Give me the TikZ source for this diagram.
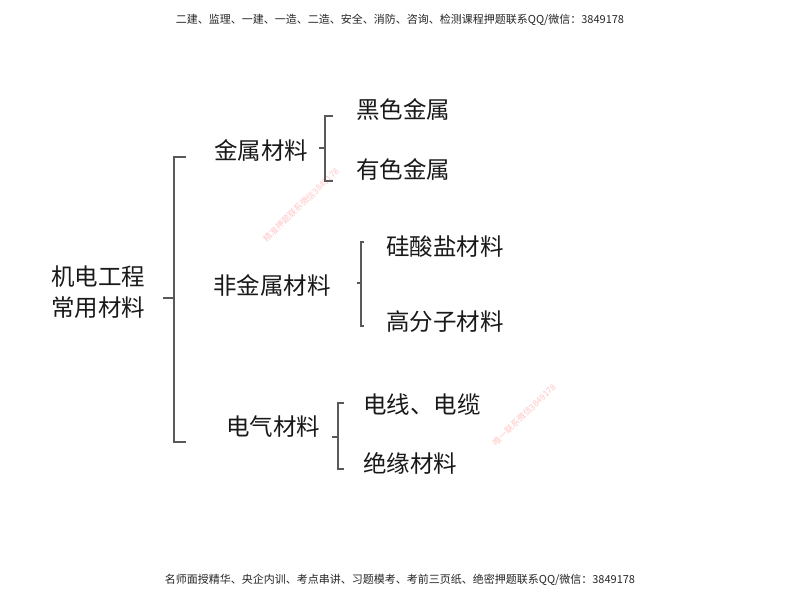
\documentclass[tikz,border=0pt]{standalone}
\usepackage{fontspec}
\setmainfont{Noto Sans CJK SC}
\newfontfamily\cjk{Noto Sans CJK SC}
\begin{document}
\begin{tikzpicture}[x=1pt,y=-1pt,
  lbl/.style={font=\cjk\fontsize{23.5}{31}\selectfont, text=black!90, inner sep=0pt},
  small/.style={font=\cjk\fontsize{11}{13}\selectfont, text=black!85, inner sep=0pt},
  wm/.style={font=\cjk\fontsize{8.5}{10}\selectfont, text=red!22, rotate=44, inner sep=0pt},
  br/.style={draw=black!65, line width=1.3pt}]
\useasboundingbox (0,0) rectangle (800,600);
\fill[white] (0,0) rectangle (800,600);
\node[small] (hdr) at (400,20) {二建、监理、一建、一造、二造、安全、消防、咨询、检测课程押题联系QQ/微信：3849178};
\node[small] (ftr) at (400,580) {名师面授精华、央企内训、考点串讲、习题模考、考前三页纸、绝密押题联系QQ/微信：3849178};
\node[wm] (wm1) at (301,205) {精准押题联系微信3849178};
\node[wm] (wm2) at (524,415) {唯一联系微信3849178};
% root
\node[lbl, align=center] (root) at (98,292) {机电工程\\常用材料};
% level 1
\node[lbl] (metal) at (261,150) {金属材料};
\node[lbl] (nonmetal) at (272,285) {非金属材料};
\node[lbl] (elec) at (273,427) {电气材料};
% level 2
\node[lbl] (black) at (403,110) {黑色金属};
\node[lbl] (color) at (403,169) {有色金属};
\node[lbl] (sil) at (445,247) {硅酸盐材料};
\node[lbl] (poly) at (445,322) {高分子材料};
\node[lbl] (wire) at (422,405) {电线、电缆};
\node[lbl] (insu) at (410,463) {绝缘材料};
% brackets
\coordinate (b1t) at (186,157); \coordinate (b1b) at (186,442); \coordinate (b1m) at (163,298);
\draw[br] (b1t) -- (174,157) -- (174,442) -- (b1b);
\draw[br] (b1m) -- (174,298);
\coordinate (b2t) at (333,116); \coordinate (b2b) at (333,181); \coordinate (b2m) at (319,148);
\draw[br] (b2t) -- (325,116) -- (325,181) -- (b2b);
\draw[br] (b2m) -- (325,148);
\coordinate (b3t) at (364,242); \coordinate (b3b) at (364,326); \coordinate (b3m) at (357,283);
\draw[br] (b3t) -- (361,242) -- (361,326) -- (b3b);
\draw[br] (b3m) -- (361,283);
\coordinate (b4t) at (344,403); \coordinate (b4b) at (344,469); \coordinate (b4m) at (332,437);
\draw[br] (b4t) -- (338,403) -- (338,469) -- (b4b);
\draw[br] (b4m) -- (338,437);
\end{tikzpicture}
\end{document}
